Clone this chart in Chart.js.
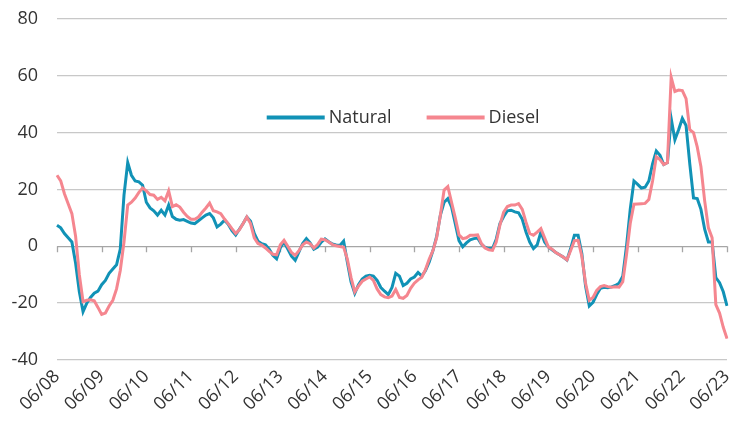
<!DOCTYPE html>
<html>
<head>
<meta charset="utf-8">
<script src="https://cdn.jsdelivr.net/npm/chart.js@4"></script>
<style>
  body { margin: 0; background: #fff; }
</style>
</head>
<body>
<canvas id="fuelChart" width="735" height="427"></canvas>
<script>
// year ticks shown on the x axis (every 12th month)
const yearTicks = ['06/08', '06/09', '06/10', '06/11', '06/12', '06/13', '06/14', '06/15',
  '06/16', '06/17', '06/18', '06/19', '06/20', '06/21', '06/22', '06/23'];

// monthly categories, June 2008 .. June 2023
const months = [];
for (let y = 8; y <= 23; y++) {
  for (let mo = 1; mo <= 12; mo++) {
    const label = String(mo).padStart(2, '0') + '/' + String(y).padStart(2, '0');
    if ((y === 8 && mo < 6) || (y === 23 && mo > 6)) continue;
    months.push(label);
  }
}

const naturalValues = [
  7.4, 6.5, 4.5, 3, 1.5, -6, -16, -23, -20, -18, -16.5, -15.8,
  -13.5, -12, -9.5, -8, -6.5, -1, 18, 29.5, 25, 23, 22.7, 21.5,
  15.5, 13.5, 12.5, 11, 12.7, 11, 14.5, 10.5, 9.5, 9.2, 9.4, 8.8,
  8.2, 8, 9, 10, 11, 11.5, 10, 6.8, 7.8, 9.2, 7.8, 5.5,
  4, 6, 8, 10.3, 8.8, 4.5, 1.8, 0.9, 0.5, -1, -3.2, -4.4,
  -0.5, 1.5, -1, -3.5, -4.9, -2, 1, 2.7, 1.2, -1, -0.3, 1.5,
  2.6, 1.6, 0.8, 0.5, 0.3, 1.8, -5.5, -12.5, -16.5, -13.5, -11.5, -10.5,
  -10.2, -10.5, -12, -14.5, -15.8, -17, -14.5, -9.5, -10.5, -13.8, -13, -11.5,
  -10.8, -9.2, -10.5, -8.5, -5.5, -1.5, 3.5, 11, 15.5, 16.8, 13.9, 8,
  2, -0.2, 1.2, 2.3, 2.7, 2.9, 0.8, -0.4, -0.8, -0.8, 2.5, 8,
  10.5, 12.5, 12.7, 12.1, 11.8, 9.5, 5, 1.5, -0.8, 0.5, 5, 1.5,
  -0.2, -1.2, -2.2, -3, -3.8, -4.8, -0.8, 3.9, 3.9, -2.5, -14, -21,
  -19.7, -17, -14.8, -14.4, -14.6, -14.3, -13.8, -13, -10.5, 0, 13, 23,
  21.8, 20.5, 20.8, 23, 29, 33.5, 32, 28.8, 29.5, 45, 37.5, 41,
  45, 42.5, 29, 17, 16.8, 13, 6, 1.5, 1.5, -11, -12.8, -16,
  -21
];

const dieselValues = [
  25, 23, 18.5, 15, 11.5, 3.5, -10, -19.5, -19, -18.8, -19.2, -21.5,
  -24, -23.5, -21, -19, -15, -8.5, 1.5, 14.5, 15.5, 17, 19, 20.5,
  19.5, 18.2, 18, 16.5, 17.2, 16, 19.5, 14, 14.6, 13.8, 12, 10.5,
  9.5, 9.5, 10.3, 12, 13.5, 15.2, 12.5, 12.1, 11.5, 9.6, 8, 6.2,
  4.5, 5.8, 8, 10.3, 8, 3, 1, 0.4, -0.6, -1.8, -2.8, -3,
  0.5, 2.1, 0, -2.2, -3.2, -1.5, 0.5, 1.5, 0.9, -0.6, 0.6, 2.5,
  2.3, 1.5, 0.6, 0.2, -0.1, -0.3, -4.5, -11, -16, -14, -12.3, -11.5,
  -10.8, -12, -15, -17, -17.8, -18.1, -17.5, -15.2, -18, -18.3, -17.3, -14.8,
  -13, -11.8, -10.9, -8.2, -4.5, -1.5, 3, 11, 19.8, 21, 15.5, 10,
  4, 2.7, 3, 3.9, 3.9, 4, 1, -0.6, -1.2, -1.4, 1.5, 7.5,
  12, 14, 14.5, 14.5, 15, 13, 8.5, 4.5, 3.9, 5, 6.2, 3,
  -0.2, -1, -2.2, -3, -3.8, -4.8, -1.5, 2, 2.1, -3.5, -13, -19,
  -18, -15.5, -14.2, -13.8, -14.2, -14.4, -14.2, -14.4, -12.5, -3, 8, 14.8,
  14.9, 15, 15.1, 16.5, 23, 31.5, 30.5, 28.8, 29.5, 59.5, 54.5, 55,
  54.8, 52, 41, 40, 35, 28, 16, 6.5, 3, -20.5, -23.5, -28.5,
  -32.5
];

const seriesNames = ['Natural', 'Diesel'];
const seriesColors = ['#1192b6', '#f5868f'];

const textColor = '#333333';
const fontFamily = "'Open Sans', 'Liberation Sans', sans-serif";

// small tick marks hanging under the zero line at each year
const zeroTicks = {
  id: 'zeroTicks',
  beforeDatasetsDraw(chart) {
    const { ctx, scales } = chart;
    const y0 = scales.y.getPixelForValue(0);
    ctx.save();
    ctx.strokeStyle = '#a6a6a6';
    ctx.lineWidth = 1.3;
    ctx.beginPath();
    for (let i = 0; i < months.length; i += 12) {
      const x = Math.round(scales.x.getPixelForValue(i)) + 0.5;
      ctx.moveTo(x, y0);
      ctx.lineTo(x, y0 + 6);
    }
    ctx.stroke();
    ctx.restore();
  }
};

// legend drawn inside the plot, like the original
const innerLegend = {
  id: 'innerLegend',
  afterDraw(chart) {
    const { ctx, chartArea } = chart;
    const lineLen = 58;
    let x = chartArea.left + chartArea.width * 0.313;
    const y = chartArea.top + chartArea.height * 0.289;
    ctx.save();
    ctx.font = '18px ' + fontFamily;
    ctx.textBaseline = 'middle';
    chart.data.datasets.forEach(ds => {
      ctx.strokeStyle = ds.borderColor;
      ctx.lineWidth = 4;
      ctx.beginPath();
      ctx.moveTo(x, y);
      ctx.lineTo(x + lineLen, y);
      ctx.stroke();
      x += lineLen + 4;
      ctx.fillStyle = textColor;
      ctx.fillText(ds.label, x, y);
      x += ctx.measureText(ds.label).width + 35;
    });
    ctx.restore();
  }
};

const ctx = document.getElementById('fuelChart').getContext('2d');

new Chart(ctx, {
  type: 'line',
  data: {
    labels: months,
    datasets: [
      {
        label: seriesNames[0],
        data: naturalValues,
        borderColor: seriesColors[0],
        borderWidth: 3,
        pointRadius: 0,
        tension: 0,
        order: 1
      },
      {
        label: seriesNames[1],
        data: dieselValues,
        borderColor: seriesColors[1],
        borderWidth: 3,
        pointRadius: 0,
        tension: 0,
        order: 0
      }
    ]
  },
  options: {
    responsive: false,
    animation: false,
    layout: { padding: { left: 12, right: 8, top: 19, bottom: 6 } },
    plugins: {
      legend: { display: false },
      tooltip: { enabled: false }
    },
    scales: {
      x: {
        type: 'category',
        grid: { display: false, drawTicks: false },
        border: { display: false },
        afterFit: scale => {
          scale.paddingLeft = 0;
          scale.paddingRight = 0;
        },
        ticks: {
          autoSkip: false,
          minRotation: 45,
          maxRotation: 45,
          padding: 6,
          color: textColor,
          font: { size: 18, family: fontFamily },
          callback: (val, i) => i % 12 === 0 ? yearTicks[i / 12] : null
        }
      },
      y: {
        min: -40,
        max: 80,
        border: { display: false },
        grid: {
          drawTicks: false,
          lineWidth: 1.3,
          color: c => c.tick.value === 0 ? '#a6a6a6' : '#c8c8c8'
        },
        afterFit: scale => {
          scale.paddingTop = 0;
          scale.paddingBottom = 0;
          scale.width = 45;
        },
        ticks: {
          stepSize: 20,
          padding: 19,
          color: textColor,
          font: { size: 18, family: fontFamily }
        }
      }
    }
  },
  plugins: [zeroTicks, innerLegend]
});
</script>
</body>
</html>
